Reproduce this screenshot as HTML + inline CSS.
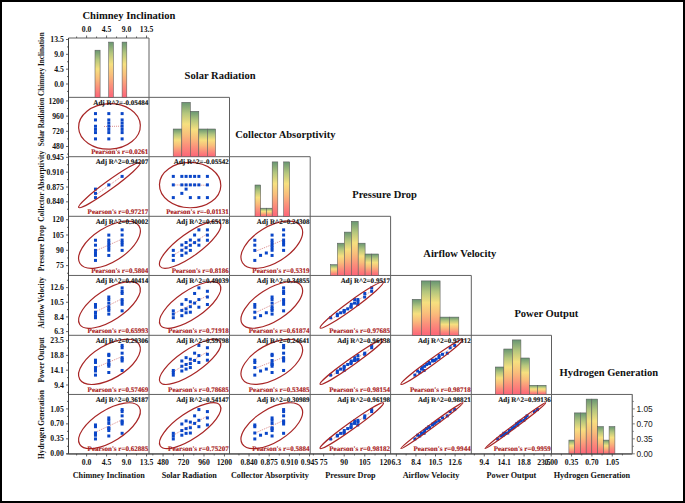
<!DOCTYPE html>
<html><head><meta charset="utf-8"><style>
html,body{margin:0;padding:0;background:#fff}
#w{position:relative;width:685px;height:503px;overflow:hidden;background:#fff}
#b{position:absolute;left:0;top:0;width:685px;height:503px;box-sizing:border-box;border:2px solid #000}
svg{position:absolute;left:0;top:0}
</style></head><body><div id="w">
<svg width="685" height="503" viewBox="0 0 685 503">
<defs><linearGradient id="g" x1="0" y1="0" x2="0" y2="1"><stop offset="0" stop-color="#689672"/><stop offset="0.2" stop-color="#b4c67d"/><stop offset="0.4" stop-color="#f6e07f"/><stop offset="0.6" stop-color="#f9bd7b"/><stop offset="0.8" stop-color="#fb8e7b"/><stop offset="1" stop-color="#fd6478"/></linearGradient></defs>
<line x1="68.5" y1="38.0" x2="149.0" y2="38.0" stroke="#606060" stroke-width="1"/>
<line x1="68.5" y1="97.35" x2="229.5" y2="97.35" stroke="#606060" stroke-width="1"/>
<line x1="68.5" y1="156.7" x2="310.2" y2="156.7" stroke="#606060" stroke-width="1"/>
<line x1="68.5" y1="216.3" x2="390.6" y2="216.3" stroke="#606060" stroke-width="1"/>
<line x1="68.5" y1="275.45" x2="471.3" y2="275.45" stroke="#606060" stroke-width="1"/>
<line x1="68.5" y1="335.3" x2="551.5" y2="335.3" stroke="#606060" stroke-width="1"/>
<line x1="68.5" y1="394.45" x2="632.3" y2="394.45" stroke="#606060" stroke-width="1"/>
<line x1="68.5" y1="453.95" x2="632.3" y2="453.95" stroke="#606060" stroke-width="1"/>
<line x1="149.0" y1="38.0" x2="149.0" y2="453.95" stroke="#606060" stroke-width="1"/>
<line x1="229.5" y1="97.35" x2="229.5" y2="453.95" stroke="#606060" stroke-width="1"/>
<line x1="310.2" y1="156.7" x2="310.2" y2="453.95" stroke="#606060" stroke-width="1"/>
<line x1="390.6" y1="216.3" x2="390.6" y2="453.95" stroke="#606060" stroke-width="1"/>
<line x1="471.3" y1="275.45" x2="471.3" y2="453.95" stroke="#606060" stroke-width="1"/>
<line x1="551.5" y1="335.3" x2="551.5" y2="453.95" stroke="#606060" stroke-width="1"/>
<line x1="632.3" y1="394.45" x2="632.3" y2="453.95" stroke="#606060" stroke-width="1"/>
<rect x="95.0" y="50.2" width="5.10" height="47.15" fill="url(#g)" stroke="#5a5a5a" stroke-width="0.55"/>
<rect x="108.7" y="42.1" width="4.70" height="55.25" fill="url(#g)" stroke="#5a5a5a" stroke-width="0.55"/>
<rect x="122.1" y="42.1" width="4.70" height="55.25" fill="url(#g)" stroke="#5a5a5a" stroke-width="0.55"/>
<rect x="173.2" y="129.0" width="8.60" height="27.70" fill="url(#g)" stroke="#5a5a5a" stroke-width="0.55"/>
<rect x="181.8" y="102.3" width="8.50" height="54.40" fill="url(#g)" stroke="#5a5a5a" stroke-width="0.55"/>
<rect x="190.3" y="111.3" width="8.50" height="45.40" fill="url(#g)" stroke="#5a5a5a" stroke-width="0.55"/>
<rect x="198.8" y="129.0" width="8.60" height="27.70" fill="url(#g)" stroke="#5a5a5a" stroke-width="0.55"/>
<rect x="207.4" y="129.0" width="8.20" height="27.70" fill="url(#g)" stroke="#5a5a5a" stroke-width="0.55"/>
<rect x="255.0" y="185.0" width="5.70" height="31.30" fill="url(#g)" stroke="#5a5a5a" stroke-width="0.55"/>
<rect x="260.7" y="208.2" width="5.80" height="8.10" fill="url(#g)" stroke="#5a5a5a" stroke-width="0.55"/>
<rect x="266.5" y="208.2" width="5.70" height="8.10" fill="url(#g)" stroke="#5a5a5a" stroke-width="0.55"/>
<rect x="272.2" y="161.9" width="5.60" height="54.40" fill="url(#g)" stroke="#5a5a5a" stroke-width="0.55"/>
<rect x="283.7" y="161.9" width="6.00" height="54.40" fill="url(#g)" stroke="#5a5a5a" stroke-width="0.55"/>
<rect x="330.5" y="264.7" width="6.90" height="10.75" fill="url(#g)" stroke="#5a5a5a" stroke-width="0.55"/>
<rect x="337.4" y="243.2" width="6.90" height="32.25" fill="url(#g)" stroke="#5a5a5a" stroke-width="0.55"/>
<rect x="344.3" y="232.1" width="7.00" height="43.35" fill="url(#g)" stroke="#5a5a5a" stroke-width="0.55"/>
<rect x="351.3" y="221.3" width="6.90" height="54.15" fill="url(#g)" stroke="#5a5a5a" stroke-width="0.55"/>
<rect x="358.2" y="243.2" width="6.90" height="32.25" fill="url(#g)" stroke="#5a5a5a" stroke-width="0.55"/>
<rect x="365.1" y="254.0" width="6.50" height="21.45" fill="url(#g)" stroke="#5a5a5a" stroke-width="0.55"/>
<rect x="371.6" y="254.0" width="6.90" height="21.45" fill="url(#g)" stroke="#5a5a5a" stroke-width="0.55"/>
<rect x="412.2" y="299.3" width="9.10" height="36.00" fill="url(#g)" stroke="#5a5a5a" stroke-width="0.55"/>
<rect x="421.3" y="280.9" width="9.40" height="54.40" fill="url(#g)" stroke="#5a5a5a" stroke-width="0.55"/>
<rect x="430.7" y="280.9" width="9.40" height="54.40" fill="url(#g)" stroke="#5a5a5a" stroke-width="0.55"/>
<rect x="440.1" y="317.1" width="9.30" height="18.20" fill="url(#g)" stroke="#5a5a5a" stroke-width="0.55"/>
<rect x="449.4" y="317.1" width="9.40" height="18.20" fill="url(#g)" stroke="#5a5a5a" stroke-width="0.55"/>
<rect x="495.3" y="367.0" width="8.50" height="27.45" fill="url(#g)" stroke="#5a5a5a" stroke-width="0.55"/>
<rect x="503.8" y="349.0" width="8.50" height="45.45" fill="url(#g)" stroke="#5a5a5a" stroke-width="0.55"/>
<rect x="512.3" y="339.9" width="8.60" height="54.55" fill="url(#g)" stroke="#5a5a5a" stroke-width="0.55"/>
<rect x="520.9" y="358.0" width="8.50" height="36.45" fill="url(#g)" stroke="#5a5a5a" stroke-width="0.55"/>
<rect x="529.4" y="385.3" width="8.20" height="9.15" fill="url(#g)" stroke="#5a5a5a" stroke-width="0.55"/>
<rect x="537.6" y="385.3" width="8.50" height="9.15" fill="url(#g)" stroke="#5a5a5a" stroke-width="0.55"/>
<rect x="568.9" y="440.1" width="5.50" height="13.85" fill="url(#g)" stroke="#5a5a5a" stroke-width="0.55"/>
<rect x="574.4" y="412.9" width="6.00" height="41.05" fill="url(#g)" stroke="#5a5a5a" stroke-width="0.55"/>
<rect x="580.4" y="412.9" width="5.80" height="41.05" fill="url(#g)" stroke="#5a5a5a" stroke-width="0.55"/>
<rect x="586.2" y="399.1" width="5.60" height="54.85" fill="url(#g)" stroke="#5a5a5a" stroke-width="0.55"/>
<rect x="591.8" y="399.1" width="5.80" height="54.85" fill="url(#g)" stroke="#5a5a5a" stroke-width="0.55"/>
<rect x="597.6" y="426.6" width="5.80" height="27.35" fill="url(#g)" stroke="#5a5a5a" stroke-width="0.55"/>
<rect x="603.4" y="440.1" width="5.70" height="13.85" fill="url(#g)" stroke="#5a5a5a" stroke-width="0.55"/>
<rect x="609.1" y="426.6" width="5.80" height="27.35" fill="url(#g)" stroke="#5a5a5a" stroke-width="0.55"/>
<g>
<line x1="104.00" y1="126.51" x2="122.12" y2="126.16" stroke="#cc5a5a" stroke-width="0.7" stroke-dasharray="1 1"/>
<rect x="120.62" y="137.40" width="3" height="3" fill="#0a46c8"/>
<rect x="120.62" y="131.08" width="3" height="3" fill="#0a46c8"/>
<rect x="120.62" y="127.91" width="3" height="3" fill="#0a46c8"/>
<rect x="120.62" y="124.75" width="3" height="3" fill="#0a46c8"/>
<rect x="120.62" y="121.59" width="3" height="3" fill="#0a46c8"/>
<rect x="120.62" y="118.43" width="3" height="3" fill="#0a46c8"/>
<rect x="120.62" y="112.10" width="3" height="3" fill="#0a46c8"/>
<rect x="107.30" y="137.40" width="3" height="3" fill="#0a46c8"/>
<rect x="107.30" y="131.08" width="3" height="3" fill="#0a46c8"/>
<rect x="107.30" y="127.91" width="3" height="3" fill="#0a46c8"/>
<rect x="107.30" y="124.75" width="3" height="3" fill="#0a46c8"/>
<rect x="107.30" y="121.59" width="3" height="3" fill="#0a46c8"/>
<rect x="107.30" y="118.43" width="3" height="3" fill="#0a46c8"/>
<rect x="107.30" y="112.10" width="3" height="3" fill="#0a46c8"/>
<rect x="93.98" y="137.40" width="3" height="3" fill="#0a46c8"/>
<rect x="93.98" y="131.08" width="3" height="3" fill="#0a46c8"/>
<rect x="93.98" y="127.91" width="3" height="3" fill="#0a46c8"/>
<rect x="93.98" y="124.75" width="3" height="3" fill="#0a46c8"/>
<rect x="93.98" y="118.43" width="3" height="3" fill="#0a46c8"/>
<rect x="93.98" y="112.10" width="3" height="3" fill="#0a46c8"/>
<ellipse cx="109.47" cy="126.41" rx="30.88" ry="22.75" transform="rotate(177.59 109.47 126.41)" fill="none" stroke="#a82626" stroke-width="1.2"/>
<text x="148.40" y="104.65" text-anchor="end" style="font-family:'Liberation Serif',serif;font-weight:bold;font-size:7.05px;text-rendering:geometricPrecision" fill="#111" stroke="#111" stroke-width="0.12">Adj R^2=-0.05484</text>
<text x="148.40" y="154.20" text-anchor="end" style="font-family:'Liberation Serif',serif;font-weight:bold;font-size:7.05px;text-rendering:geometricPrecision" fill="#a82020" stroke="#a82020" stroke-width="0.12">Pearson's r=0.0261</text>
</g>
<g>
<line x1="95.48" y1="195.08" x2="122.12" y2="176.06" stroke="#cc5a5a" stroke-width="0.7" stroke-dasharray="1 1"/>
<rect x="120.62" y="174.90" width="3" height="3" fill="#0a46c8"/>
<rect x="107.30" y="183.38" width="3" height="3" fill="#0a46c8"/>
<rect x="93.98" y="196.10" width="3" height="3" fill="#0a46c8"/>
<rect x="93.98" y="191.86" width="3" height="3" fill="#0a46c8"/>
<rect x="93.98" y="187.62" width="3" height="3" fill="#0a46c8"/>
<ellipse cx="109.47" cy="185.09" rx="38.06" ry="4.31" transform="rotate(143.94 109.47 185.09)" fill="none" stroke="#a82626" stroke-width="1.2"/>
<text x="148.40" y="164.00" text-anchor="end" style="font-family:'Liberation Serif',serif;font-weight:bold;font-size:7.05px;text-rendering:geometricPrecision" fill="#111" stroke="#111" stroke-width="0.12">Adj R^2=0.94207</text>
<text x="148.40" y="213.80" text-anchor="end" style="font-family:'Liberation Serif',serif;font-weight:bold;font-size:7.05px;text-rendering:geometricPrecision" fill="#a82020" stroke="#a82020" stroke-width="0.12">Pearson's r=0.97217</text>
</g>
<g>
<line x1="173.30" y1="184.95" x2="207.40" y2="185.24" stroke="#cc5a5a" stroke-width="0.7" stroke-dasharray="1 1"/>
<rect x="171.80" y="174.90" width="3" height="3" fill="#0a46c8"/>
<rect x="180.33" y="174.90" width="3" height="3" fill="#0a46c8"/>
<rect x="184.59" y="174.90" width="3" height="3" fill="#0a46c8"/>
<rect x="188.85" y="174.90" width="3" height="3" fill="#0a46c8"/>
<rect x="193.11" y="174.90" width="3" height="3" fill="#0a46c8"/>
<rect x="197.38" y="174.90" width="3" height="3" fill="#0a46c8"/>
<rect x="205.90" y="174.90" width="3" height="3" fill="#0a46c8"/>
<rect x="171.80" y="183.38" width="3" height="3" fill="#0a46c8"/>
<rect x="180.33" y="183.38" width="3" height="3" fill="#0a46c8"/>
<rect x="184.59" y="183.38" width="3" height="3" fill="#0a46c8"/>
<rect x="188.85" y="183.38" width="3" height="3" fill="#0a46c8"/>
<rect x="193.11" y="183.38" width="3" height="3" fill="#0a46c8"/>
<rect x="197.38" y="183.38" width="3" height="3" fill="#0a46c8"/>
<rect x="205.90" y="183.38" width="3" height="3" fill="#0a46c8"/>
<rect x="171.80" y="196.10" width="3" height="3" fill="#0a46c8"/>
<rect x="180.33" y="191.86" width="3" height="3" fill="#0a46c8"/>
<rect x="184.59" y="187.62" width="3" height="3" fill="#0a46c8"/>
<rect x="188.85" y="196.10" width="3" height="3" fill="#0a46c8"/>
<rect x="197.38" y="196.10" width="3" height="3" fill="#0a46c8"/>
<rect x="205.90" y="196.10" width="3" height="3" fill="#0a46c8"/>
<ellipse cx="190.14" cy="185.09" rx="30.69" ry="22.67" transform="rotate(-178.95 190.14 185.09)" fill="none" stroke="#a82626" stroke-width="1.2"/>
<text x="228.90" y="164.00" text-anchor="end" style="font-family:'Liberation Serif',serif;font-weight:bold;font-size:7.05px;text-rendering:geometricPrecision" fill="#111" stroke="#111" stroke-width="0.12">Adj R^2=-0.05542</text>
<text x="228.90" y="213.80" text-anchor="end" style="font-family:'Liberation Serif',serif;font-weight:bold;font-size:7.05px;text-rendering:geometricPrecision" fill="#a82020" stroke="#a82020" stroke-width="0.12">Pearson's r=-0.01131</text>
</g>
<g>
<line x1="95.48" y1="250.90" x2="122.12" y2="239.07" stroke="#cc5a5a" stroke-width="0.7" stroke-dasharray="1 1"/>
<rect x="120.62" y="248.87" width="3" height="3" fill="#0a46c8"/>
<rect x="120.62" y="243.51" width="3" height="3" fill="#0a46c8"/>
<rect x="120.62" y="241.02" width="3" height="3" fill="#0a46c8"/>
<rect x="120.62" y="238.55" width="3" height="3" fill="#0a46c8"/>
<rect x="120.62" y="233.51" width="3" height="3" fill="#0a46c8"/>
<rect x="120.62" y="228.37" width="3" height="3" fill="#0a46c8"/>
<rect x="107.30" y="253.93" width="3" height="3" fill="#0a46c8"/>
<rect x="107.30" y="248.76" width="3" height="3" fill="#0a46c8"/>
<rect x="107.30" y="246.21" width="3" height="3" fill="#0a46c8"/>
<rect x="107.30" y="243.78" width="3" height="3" fill="#0a46c8"/>
<rect x="107.30" y="241.12" width="3" height="3" fill="#0a46c8"/>
<rect x="107.30" y="238.61" width="3" height="3" fill="#0a46c8"/>
<rect x="107.30" y="233.60" width="3" height="3" fill="#0a46c8"/>
<rect x="93.98" y="258.91" width="3" height="3" fill="#0a46c8"/>
<rect x="93.98" y="253.88" width="3" height="3" fill="#0a46c8"/>
<rect x="93.98" y="251.48" width="3" height="3" fill="#0a46c8"/>
<rect x="93.98" y="248.89" width="3" height="3" fill="#0a46c8"/>
<rect x="93.98" y="243.67" width="3" height="3" fill="#0a46c8"/>
<rect x="93.98" y="238.75" width="3" height="3" fill="#0a46c8"/>
<ellipse cx="109.47" cy="244.69" rx="34.96" ry="17.00" transform="rotate(147.49 109.47 244.69)" fill="none" stroke="#a82626" stroke-width="1.2"/>
<text x="148.40" y="223.60" text-anchor="end" style="font-family:'Liberation Serif',serif;font-weight:bold;font-size:7.05px;text-rendering:geometricPrecision" fill="#111" stroke="#111" stroke-width="0.12">Adj R^2=0.30002</text>
<text x="148.40" y="272.95" text-anchor="end" style="font-family:'Liberation Serif',serif;font-weight:bold;font-size:7.05px;text-rendering:geometricPrecision" fill="#a82020" stroke="#a82020" stroke-width="0.12">Pearson's r=0.5804</text>
</g>
<g>
<line x1="173.30" y1="255.31" x2="207.40" y2="233.80" stroke="#cc5a5a" stroke-width="0.7" stroke-dasharray="1 1"/>
<rect x="171.80" y="248.87" width="3" height="3" fill="#0a46c8"/>
<rect x="180.33" y="243.51" width="3" height="3" fill="#0a46c8"/>
<rect x="184.59" y="241.02" width="3" height="3" fill="#0a46c8"/>
<rect x="188.85" y="238.55" width="3" height="3" fill="#0a46c8"/>
<rect x="193.11" y="233.51" width="3" height="3" fill="#0a46c8"/>
<rect x="197.38" y="228.37" width="3" height="3" fill="#0a46c8"/>
<rect x="205.90" y="228.37" width="3" height="3" fill="#0a46c8"/>
<rect x="171.80" y="253.93" width="3" height="3" fill="#0a46c8"/>
<rect x="180.33" y="248.76" width="3" height="3" fill="#0a46c8"/>
<rect x="184.59" y="246.21" width="3" height="3" fill="#0a46c8"/>
<rect x="188.85" y="243.78" width="3" height="3" fill="#0a46c8"/>
<rect x="193.11" y="241.12" width="3" height="3" fill="#0a46c8"/>
<rect x="197.38" y="238.61" width="3" height="3" fill="#0a46c8"/>
<rect x="205.90" y="233.60" width="3" height="3" fill="#0a46c8"/>
<rect x="171.80" y="258.91" width="3" height="3" fill="#0a46c8"/>
<rect x="180.33" y="253.88" width="3" height="3" fill="#0a46c8"/>
<rect x="184.59" y="251.48" width="3" height="3" fill="#0a46c8"/>
<rect x="188.85" y="248.89" width="3" height="3" fill="#0a46c8"/>
<rect x="197.38" y="243.67" width="3" height="3" fill="#0a46c8"/>
<rect x="205.90" y="238.75" width="3" height="3" fill="#0a46c8"/>
<ellipse cx="190.14" cy="244.69" rx="37.07" ry="11.24" transform="rotate(143.93 190.14 244.69)" fill="none" stroke="#a82626" stroke-width="1.2"/>
<text x="228.90" y="223.60" text-anchor="end" style="font-family:'Liberation Serif',serif;font-weight:bold;font-size:7.05px;text-rendering:geometricPrecision" fill="#111" stroke="#111" stroke-width="0.12">Adj R^2=0.65178</text>
<text x="228.90" y="272.95" text-anchor="end" style="font-family:'Liberation Serif',serif;font-weight:bold;font-size:7.05px;text-rendering:geometricPrecision" fill="#a82020" stroke="#a82020" stroke-width="0.12">Pearson's r=0.8186</text>
</g>
<g>
<line x1="254.80" y1="251.63" x2="283.60" y2="239.86" stroke="#cc5a5a" stroke-width="0.7" stroke-dasharray="1 1"/>
<rect x="282.10" y="248.87" width="3" height="3" fill="#0a46c8"/>
<rect x="282.10" y="243.51" width="3" height="3" fill="#0a46c8"/>
<rect x="282.10" y="241.02" width="3" height="3" fill="#0a46c8"/>
<rect x="282.10" y="238.55" width="3" height="3" fill="#0a46c8"/>
<rect x="282.10" y="233.51" width="3" height="3" fill="#0a46c8"/>
<rect x="282.10" y="228.37" width="3" height="3" fill="#0a46c8"/>
<rect x="270.58" y="253.93" width="3" height="3" fill="#0a46c8"/>
<rect x="270.58" y="248.76" width="3" height="3" fill="#0a46c8"/>
<rect x="270.58" y="246.21" width="3" height="3" fill="#0a46c8"/>
<rect x="270.58" y="243.78" width="3" height="3" fill="#0a46c8"/>
<rect x="270.58" y="241.12" width="3" height="3" fill="#0a46c8"/>
<rect x="270.58" y="238.61" width="3" height="3" fill="#0a46c8"/>
<rect x="270.58" y="233.60" width="3" height="3" fill="#0a46c8"/>
<rect x="253.30" y="258.91" width="3" height="3" fill="#0a46c8"/>
<rect x="259.06" y="253.88" width="3" height="3" fill="#0a46c8"/>
<rect x="264.82" y="251.48" width="3" height="3" fill="#0a46c8"/>
<rect x="253.30" y="248.89" width="3" height="3" fill="#0a46c8"/>
<rect x="253.30" y="243.67" width="3" height="3" fill="#0a46c8"/>
<rect x="253.30" y="238.75" width="3" height="3" fill="#0a46c8"/>
<ellipse cx="271.79" cy="244.69" rx="34.46" ry="17.88" transform="rotate(148.35 271.79 244.69)" fill="none" stroke="#a82626" stroke-width="1.2"/>
<text x="309.60" y="223.60" text-anchor="end" style="font-family:'Liberation Serif',serif;font-weight:bold;font-size:7.05px;text-rendering:geometricPrecision" fill="#111" stroke="#111" stroke-width="0.12">Adj R^2=0.24308</text>
<text x="309.60" y="272.95" text-anchor="end" style="font-family:'Liberation Serif',serif;font-weight:bold;font-size:7.05px;text-rendering:geometricPrecision" fill="#a82020" stroke="#a82020" stroke-width="0.12">Pearson's r=0.5319</text>
</g>
<g>
<line x1="95.48" y1="311.91" x2="122.12" y2="298.65" stroke="#cc5a5a" stroke-width="0.7" stroke-dasharray="1 1"/>
<rect x="120.62" y="309.34" width="3" height="3" fill="#0a46c8"/>
<rect x="120.62" y="302.79" width="3" height="3" fill="#0a46c8"/>
<rect x="120.62" y="298.11" width="3" height="3" fill="#0a46c8"/>
<rect x="120.62" y="300.27" width="3" height="3" fill="#0a46c8"/>
<rect x="120.62" y="291.96" width="3" height="3" fill="#0a46c8"/>
<rect x="120.62" y="286.38" width="3" height="3" fill="#0a46c8"/>
<rect x="120.62" y="289.79" width="3" height="3" fill="#0a46c8"/>
<rect x="107.30" y="312.60" width="3" height="3" fill="#0a46c8"/>
<rect x="107.30" y="308.92" width="3" height="3" fill="#0a46c8"/>
<rect x="107.30" y="307.38" width="3" height="3" fill="#0a46c8"/>
<rect x="107.30" y="305.19" width="3" height="3" fill="#0a46c8"/>
<rect x="107.30" y="301.61" width="3" height="3" fill="#0a46c8"/>
<rect x="107.30" y="298.06" width="3" height="3" fill="#0a46c8"/>
<rect x="107.30" y="295.51" width="3" height="3" fill="#0a46c8"/>
<rect x="93.98" y="316.22" width="3" height="3" fill="#0a46c8"/>
<rect x="93.98" y="314.16" width="3" height="3" fill="#0a46c8"/>
<rect x="93.98" y="311.25" width="3" height="3" fill="#0a46c8"/>
<rect x="93.98" y="310.69" width="3" height="3" fill="#0a46c8"/>
<rect x="93.98" y="305.72" width="3" height="3" fill="#0a46c8"/>
<rect x="93.98" y="303.01" width="3" height="3" fill="#0a46c8"/>
<ellipse cx="109.47" cy="304.95" rx="35.56" ry="15.19" transform="rotate(146.70 109.47 304.95)" fill="none" stroke="#a82626" stroke-width="1.2"/>
<text x="148.40" y="282.75" text-anchor="end" style="font-family:'Liberation Serif',serif;font-weight:bold;font-size:7.05px;text-rendering:geometricPrecision" fill="#111" stroke="#111" stroke-width="0.12">Adj R^2=0.40414</text>
<text x="148.40" y="332.80" text-anchor="end" style="font-family:'Liberation Serif',serif;font-weight:bold;font-size:7.05px;text-rendering:geometricPrecision" fill="#a82020" stroke="#a82020" stroke-width="0.12">Pearson's r=0.65993</text>
</g>
<g>
<line x1="173.30" y1="314.13" x2="207.40" y2="295.53" stroke="#cc5a5a" stroke-width="0.7" stroke-dasharray="1 1"/>
<rect x="171.80" y="309.34" width="3" height="3" fill="#0a46c8"/>
<rect x="180.33" y="302.79" width="3" height="3" fill="#0a46c8"/>
<rect x="184.59" y="298.11" width="3" height="3" fill="#0a46c8"/>
<rect x="188.85" y="300.27" width="3" height="3" fill="#0a46c8"/>
<rect x="193.11" y="291.96" width="3" height="3" fill="#0a46c8"/>
<rect x="197.38" y="286.38" width="3" height="3" fill="#0a46c8"/>
<rect x="205.90" y="289.79" width="3" height="3" fill="#0a46c8"/>
<rect x="171.80" y="312.60" width="3" height="3" fill="#0a46c8"/>
<rect x="180.33" y="308.92" width="3" height="3" fill="#0a46c8"/>
<rect x="184.59" y="307.38" width="3" height="3" fill="#0a46c8"/>
<rect x="188.85" y="305.19" width="3" height="3" fill="#0a46c8"/>
<rect x="193.11" y="301.61" width="3" height="3" fill="#0a46c8"/>
<rect x="197.38" y="298.06" width="3" height="3" fill="#0a46c8"/>
<rect x="205.90" y="295.51" width="3" height="3" fill="#0a46c8"/>
<rect x="171.80" y="316.22" width="3" height="3" fill="#0a46c8"/>
<rect x="180.33" y="314.16" width="3" height="3" fill="#0a46c8"/>
<rect x="184.59" y="311.25" width="3" height="3" fill="#0a46c8"/>
<rect x="188.85" y="310.69" width="3" height="3" fill="#0a46c8"/>
<rect x="197.38" y="305.72" width="3" height="3" fill="#0a46c8"/>
<rect x="205.90" y="303.01" width="3" height="3" fill="#0a46c8"/>
<ellipse cx="190.14" cy="304.95" rx="35.96" ry="13.82" transform="rotate(145.62 190.14 304.95)" fill="none" stroke="#a82626" stroke-width="1.2"/>
<text x="228.90" y="282.75" text-anchor="end" style="font-family:'Liberation Serif',serif;font-weight:bold;font-size:7.05px;text-rendering:geometricPrecision" fill="#111" stroke="#111" stroke-width="0.12">Adj R^2=0.49039</text>
<text x="228.90" y="332.80" text-anchor="end" style="font-family:'Liberation Serif',serif;font-weight:bold;font-size:7.05px;text-rendering:geometricPrecision" fill="#a82020" stroke="#a82020" stroke-width="0.12">Pearson's r=0.71918</text>
</g>
<g>
<line x1="254.80" y1="312.90" x2="283.60" y2="299.42" stroke="#cc5a5a" stroke-width="0.7" stroke-dasharray="1 1"/>
<rect x="282.10" y="309.34" width="3" height="3" fill="#0a46c8"/>
<rect x="282.10" y="302.79" width="3" height="3" fill="#0a46c8"/>
<rect x="282.10" y="298.11" width="3" height="3" fill="#0a46c8"/>
<rect x="282.10" y="300.27" width="3" height="3" fill="#0a46c8"/>
<rect x="282.10" y="291.96" width="3" height="3" fill="#0a46c8"/>
<rect x="282.10" y="286.38" width="3" height="3" fill="#0a46c8"/>
<rect x="282.10" y="289.79" width="3" height="3" fill="#0a46c8"/>
<rect x="270.58" y="312.60" width="3" height="3" fill="#0a46c8"/>
<rect x="270.58" y="308.92" width="3" height="3" fill="#0a46c8"/>
<rect x="270.58" y="307.38" width="3" height="3" fill="#0a46c8"/>
<rect x="270.58" y="305.19" width="3" height="3" fill="#0a46c8"/>
<rect x="270.58" y="301.61" width="3" height="3" fill="#0a46c8"/>
<rect x="270.58" y="298.06" width="3" height="3" fill="#0a46c8"/>
<rect x="270.58" y="295.51" width="3" height="3" fill="#0a46c8"/>
<rect x="253.30" y="316.22" width="3" height="3" fill="#0a46c8"/>
<rect x="259.06" y="314.16" width="3" height="3" fill="#0a46c8"/>
<rect x="264.82" y="311.25" width="3" height="3" fill="#0a46c8"/>
<rect x="253.30" y="310.69" width="3" height="3" fill="#0a46c8"/>
<rect x="253.30" y="305.72" width="3" height="3" fill="#0a46c8"/>
<rect x="253.30" y="303.01" width="3" height="3" fill="#0a46c8"/>
<ellipse cx="271.79" cy="304.95" rx="35.12" ry="16.04" transform="rotate(147.30 271.79 304.95)" fill="none" stroke="#a82626" stroke-width="1.2"/>
<text x="309.60" y="282.75" text-anchor="end" style="font-family:'Liberation Serif',serif;font-weight:bold;font-size:7.05px;text-rendering:geometricPrecision" fill="#111" stroke="#111" stroke-width="0.12">Adj R^2=0.34855</text>
<text x="309.60" y="332.80" text-anchor="end" style="font-family:'Liberation Serif',serif;font-weight:bold;font-size:7.05px;text-rendering:geometricPrecision" fill="#a82020" stroke="#a82020" stroke-width="0.12">Pearson's r=0.61874</text>
</g>
<g>
<line x1="330.62" y1="320.08" x2="371.67" y2="290.69" stroke="#cc5a5a" stroke-width="0.7" stroke-dasharray="1 1"/>
<rect x="342.62" y="309.34" width="3" height="3" fill="#0a46c8"/>
<rect x="349.82" y="302.79" width="3" height="3" fill="#0a46c8"/>
<rect x="353.17" y="298.11" width="3" height="3" fill="#0a46c8"/>
<rect x="356.48" y="300.27" width="3" height="3" fill="#0a46c8"/>
<rect x="363.26" y="291.96" width="3" height="3" fill="#0a46c8"/>
<rect x="370.17" y="286.38" width="3" height="3" fill="#0a46c8"/>
<rect x="370.17" y="289.79" width="3" height="3" fill="#0a46c8"/>
<rect x="335.82" y="312.60" width="3" height="3" fill="#0a46c8"/>
<rect x="342.76" y="308.92" width="3" height="3" fill="#0a46c8"/>
<rect x="346.19" y="307.38" width="3" height="3" fill="#0a46c8"/>
<rect x="349.45" y="305.19" width="3" height="3" fill="#0a46c8"/>
<rect x="353.03" y="301.61" width="3" height="3" fill="#0a46c8"/>
<rect x="356.41" y="298.06" width="3" height="3" fill="#0a46c8"/>
<rect x="363.14" y="295.51" width="3" height="3" fill="#0a46c8"/>
<rect x="329.12" y="316.22" width="3" height="3" fill="#0a46c8"/>
<rect x="335.88" y="314.16" width="3" height="3" fill="#0a46c8"/>
<rect x="339.10" y="311.25" width="3" height="3" fill="#0a46c8"/>
<rect x="342.59" y="310.69" width="3" height="3" fill="#0a46c8"/>
<rect x="349.60" y="305.72" width="3" height="3" fill="#0a46c8"/>
<rect x="356.22" y="303.01" width="3" height="3" fill="#0a46c8"/>
<ellipse cx="351.75" cy="304.95" rx="39.18" ry="4.03" transform="rotate(143.95 351.75 304.95)" fill="none" stroke="#a82626" stroke-width="1.2"/>
<text x="390.00" y="282.75" text-anchor="end" style="font-family:'Liberation Serif',serif;font-weight:bold;font-size:7.05px;text-rendering:geometricPrecision" fill="#111" stroke="#111" stroke-width="0.12">Adj R^2=0.9517</text>
<text x="390.00" y="332.80" text-anchor="end" style="font-family:'Liberation Serif',serif;font-weight:bold;font-size:7.05px;text-rendering:geometricPrecision" fill="#a82020" stroke="#a82020" stroke-width="0.12">Pearson's r=0.97685</text>
</g>
<g>
<line x1="95.48" y1="367.74" x2="122.12" y2="356.54" stroke="#cc5a5a" stroke-width="0.7" stroke-dasharray="1 1"/>
<rect x="120.62" y="368.97" width="3" height="3" fill="#0a46c8"/>
<rect x="120.62" y="359.49" width="3" height="3" fill="#0a46c8"/>
<rect x="120.62" y="356.16" width="3" height="3" fill="#0a46c8"/>
<rect x="120.62" y="357.72" width="3" height="3" fill="#0a46c8"/>
<rect x="120.62" y="351.67" width="3" height="3" fill="#0a46c8"/>
<rect x="120.62" y="343.92" width="3" height="3" fill="#0a46c8"/>
<rect x="120.62" y="346.24" width="3" height="3" fill="#0a46c8"/>
<rect x="107.30" y="371.00" width="3" height="3" fill="#0a46c8"/>
<rect x="107.30" y="364.74" width="3" height="3" fill="#0a46c8"/>
<rect x="107.30" y="362.97" width="3" height="3" fill="#0a46c8"/>
<rect x="107.30" y="362.07" width="3" height="3" fill="#0a46c8"/>
<rect x="107.30" y="358.99" width="3" height="3" fill="#0a46c8"/>
<rect x="107.30" y="354.08" width="3" height="3" fill="#0a46c8"/>
<rect x="107.30" y="352.81" width="3" height="3" fill="#0a46c8"/>
<rect x="93.98" y="373.60" width="3" height="3" fill="#0a46c8"/>
<rect x="93.98" y="369.48" width="3" height="3" fill="#0a46c8"/>
<rect x="93.98" y="367.58" width="3" height="3" fill="#0a46c8"/>
<rect x="93.98" y="366.07" width="3" height="3" fill="#0a46c8"/>
<rect x="93.98" y="360.96" width="3" height="3" fill="#0a46c8"/>
<rect x="93.98" y="358.68" width="3" height="3" fill="#0a46c8"/>
<ellipse cx="109.47" cy="361.86" rx="34.49" ry="16.56" transform="rotate(149.44 109.47 361.86)" fill="none" stroke="#a82626" stroke-width="1.2"/>
<text x="148.40" y="342.60" text-anchor="end" style="font-family:'Liberation Serif',serif;font-weight:bold;font-size:7.05px;text-rendering:geometricPrecision" fill="#111" stroke="#111" stroke-width="0.12">Adj R^2=0.29306</text>
<text x="148.40" y="391.95" text-anchor="end" style="font-family:'Liberation Serif',serif;font-weight:bold;font-size:7.05px;text-rendering:geometricPrecision" fill="#a82020" stroke="#a82020" stroke-width="0.12">Pearson's r=0.57469</text>
</g>
<g>
<line x1="173.30" y1="371.61" x2="207.40" y2="351.86" stroke="#cc5a5a" stroke-width="0.7" stroke-dasharray="1 1"/>
<rect x="171.80" y="368.97" width="3" height="3" fill="#0a46c8"/>
<rect x="180.33" y="359.49" width="3" height="3" fill="#0a46c8"/>
<rect x="184.59" y="356.16" width="3" height="3" fill="#0a46c8"/>
<rect x="188.85" y="357.72" width="3" height="3" fill="#0a46c8"/>
<rect x="193.11" y="351.67" width="3" height="3" fill="#0a46c8"/>
<rect x="197.38" y="343.92" width="3" height="3" fill="#0a46c8"/>
<rect x="205.90" y="346.24" width="3" height="3" fill="#0a46c8"/>
<rect x="171.80" y="371.00" width="3" height="3" fill="#0a46c8"/>
<rect x="180.33" y="364.74" width="3" height="3" fill="#0a46c8"/>
<rect x="184.59" y="362.97" width="3" height="3" fill="#0a46c8"/>
<rect x="188.85" y="362.07" width="3" height="3" fill="#0a46c8"/>
<rect x="193.11" y="358.99" width="3" height="3" fill="#0a46c8"/>
<rect x="197.38" y="354.08" width="3" height="3" fill="#0a46c8"/>
<rect x="205.90" y="352.81" width="3" height="3" fill="#0a46c8"/>
<rect x="171.80" y="373.60" width="3" height="3" fill="#0a46c8"/>
<rect x="180.33" y="369.48" width="3" height="3" fill="#0a46c8"/>
<rect x="184.59" y="367.58" width="3" height="3" fill="#0a46c8"/>
<rect x="188.85" y="366.07" width="3" height="3" fill="#0a46c8"/>
<rect x="197.38" y="360.96" width="3" height="3" fill="#0a46c8"/>
<rect x="205.90" y="358.68" width="3" height="3" fill="#0a46c8"/>
<ellipse cx="190.14" cy="361.86" rx="36.23" ry="11.82" transform="rotate(145.78 190.14 361.86)" fill="none" stroke="#a82626" stroke-width="1.2"/>
<text x="228.90" y="342.60" text-anchor="end" style="font-family:'Liberation Serif',serif;font-weight:bold;font-size:7.05px;text-rendering:geometricPrecision" fill="#111" stroke="#111" stroke-width="0.12">Adj R^2=0.59798</text>
<text x="228.90" y="391.95" text-anchor="end" style="font-family:'Liberation Serif',serif;font-weight:bold;font-size:7.05px;text-rendering:geometricPrecision" fill="#a82020" stroke="#a82020" stroke-width="0.12">Pearson's r=0.78685</text>
</g>
<g>
<line x1="254.80" y1="368.52" x2="283.60" y2="357.23" stroke="#cc5a5a" stroke-width="0.7" stroke-dasharray="1 1"/>
<rect x="282.10" y="368.97" width="3" height="3" fill="#0a46c8"/>
<rect x="282.10" y="359.49" width="3" height="3" fill="#0a46c8"/>
<rect x="282.10" y="356.16" width="3" height="3" fill="#0a46c8"/>
<rect x="282.10" y="357.72" width="3" height="3" fill="#0a46c8"/>
<rect x="282.10" y="351.67" width="3" height="3" fill="#0a46c8"/>
<rect x="282.10" y="343.92" width="3" height="3" fill="#0a46c8"/>
<rect x="282.10" y="346.24" width="3" height="3" fill="#0a46c8"/>
<rect x="270.58" y="371.00" width="3" height="3" fill="#0a46c8"/>
<rect x="270.58" y="364.74" width="3" height="3" fill="#0a46c8"/>
<rect x="270.58" y="362.97" width="3" height="3" fill="#0a46c8"/>
<rect x="270.58" y="362.07" width="3" height="3" fill="#0a46c8"/>
<rect x="270.58" y="358.99" width="3" height="3" fill="#0a46c8"/>
<rect x="270.58" y="354.08" width="3" height="3" fill="#0a46c8"/>
<rect x="270.58" y="352.81" width="3" height="3" fill="#0a46c8"/>
<rect x="253.30" y="373.60" width="3" height="3" fill="#0a46c8"/>
<rect x="259.06" y="369.48" width="3" height="3" fill="#0a46c8"/>
<rect x="264.82" y="367.58" width="3" height="3" fill="#0a46c8"/>
<rect x="253.30" y="366.07" width="3" height="3" fill="#0a46c8"/>
<rect x="253.30" y="360.96" width="3" height="3" fill="#0a46c8"/>
<rect x="253.30" y="358.68" width="3" height="3" fill="#0a46c8"/>
<ellipse cx="271.79" cy="361.86" rx="34.08" ry="17.26" transform="rotate(150.25 271.79 361.86)" fill="none" stroke="#a82626" stroke-width="1.2"/>
<text x="309.60" y="342.60" text-anchor="end" style="font-family:'Liberation Serif',serif;font-weight:bold;font-size:7.05px;text-rendering:geometricPrecision" fill="#111" stroke="#111" stroke-width="0.12">Adj R^2=0.24641</text>
<text x="309.60" y="391.95" text-anchor="end" style="font-family:'Liberation Serif',serif;font-weight:bold;font-size:7.05px;text-rendering:geometricPrecision" fill="#a82020" stroke="#a82020" stroke-width="0.12">Pearson's r=0.53485</text>
</g>
<g>
<line x1="330.62" y1="376.62" x2="371.67" y2="347.95" stroke="#cc5a5a" stroke-width="0.7" stroke-dasharray="1 1"/>
<rect x="342.62" y="368.97" width="3" height="3" fill="#0a46c8"/>
<rect x="349.82" y="359.49" width="3" height="3" fill="#0a46c8"/>
<rect x="353.17" y="356.16" width="3" height="3" fill="#0a46c8"/>
<rect x="356.48" y="357.72" width="3" height="3" fill="#0a46c8"/>
<rect x="363.26" y="351.67" width="3" height="3" fill="#0a46c8"/>
<rect x="370.17" y="343.92" width="3" height="3" fill="#0a46c8"/>
<rect x="370.17" y="346.24" width="3" height="3" fill="#0a46c8"/>
<rect x="335.82" y="371.00" width="3" height="3" fill="#0a46c8"/>
<rect x="342.76" y="364.74" width="3" height="3" fill="#0a46c8"/>
<rect x="346.19" y="362.97" width="3" height="3" fill="#0a46c8"/>
<rect x="349.45" y="362.07" width="3" height="3" fill="#0a46c8"/>
<rect x="353.03" y="358.99" width="3" height="3" fill="#0a46c8"/>
<rect x="356.41" y="354.08" width="3" height="3" fill="#0a46c8"/>
<rect x="363.14" y="352.81" width="3" height="3" fill="#0a46c8"/>
<rect x="329.12" y="373.60" width="3" height="3" fill="#0a46c8"/>
<rect x="335.88" y="369.48" width="3" height="3" fill="#0a46c8"/>
<rect x="339.10" y="367.58" width="3" height="3" fill="#0a46c8"/>
<rect x="342.59" y="366.07" width="3" height="3" fill="#0a46c8"/>
<rect x="349.60" y="360.96" width="3" height="3" fill="#0a46c8"/>
<rect x="356.22" y="358.68" width="3" height="3" fill="#0a46c8"/>
<ellipse cx="351.75" cy="361.86" rx="38.83" ry="3.53" transform="rotate(144.74 351.75 361.86)" fill="none" stroke="#a82626" stroke-width="1.2"/>
<text x="390.00" y="342.60" text-anchor="end" style="font-family:'Liberation Serif',serif;font-weight:bold;font-size:7.05px;text-rendering:geometricPrecision" fill="#111" stroke="#111" stroke-width="0.12">Adj R^2=0.96138</text>
<text x="390.00" y="391.95" text-anchor="end" style="font-family:'Liberation Serif',serif;font-weight:bold;font-size:7.05px;text-rendering:geometricPrecision" fill="#a82020" stroke="#a82020" stroke-width="0.12">Pearson's r=0.98154</text>
</g>
<g>
<line x1="414.88" y1="374.10" x2="454.70" y2="345.51" stroke="#cc5a5a" stroke-width="0.7" stroke-dasharray="1 1"/>
<rect x="422.56" y="368.97" width="3" height="3" fill="#0a46c8"/>
<rect x="431.30" y="359.49" width="3" height="3" fill="#0a46c8"/>
<rect x="437.55" y="356.16" width="3" height="3" fill="#0a46c8"/>
<rect x="434.66" y="357.72" width="3" height="3" fill="#0a46c8"/>
<rect x="445.75" y="351.67" width="3" height="3" fill="#0a46c8"/>
<rect x="453.20" y="343.92" width="3" height="3" fill="#0a46c8"/>
<rect x="448.65" y="346.24" width="3" height="3" fill="#0a46c8"/>
<rect x="418.21" y="371.00" width="3" height="3" fill="#0a46c8"/>
<rect x="423.12" y="364.74" width="3" height="3" fill="#0a46c8"/>
<rect x="425.18" y="362.97" width="3" height="3" fill="#0a46c8"/>
<rect x="428.10" y="362.07" width="3" height="3" fill="#0a46c8"/>
<rect x="432.87" y="358.99" width="3" height="3" fill="#0a46c8"/>
<rect x="437.61" y="354.08" width="3" height="3" fill="#0a46c8"/>
<rect x="441.01" y="352.81" width="3" height="3" fill="#0a46c8"/>
<rect x="413.38" y="373.60" width="3" height="3" fill="#0a46c8"/>
<rect x="416.13" y="369.48" width="3" height="3" fill="#0a46c8"/>
<rect x="420.01" y="367.58" width="3" height="3" fill="#0a46c8"/>
<rect x="420.76" y="366.07" width="3" height="3" fill="#0a46c8"/>
<rect x="427.39" y="360.96" width="3" height="3" fill="#0a46c8"/>
<rect x="431.01" y="358.68" width="3" height="3" fill="#0a46c8"/>
<ellipse cx="431.92" cy="361.86" rx="38.31" ry="2.92" transform="rotate(144.09 431.92 361.86)" fill="none" stroke="#a82626" stroke-width="1.2"/>
<text x="470.70" y="342.60" text-anchor="end" style="font-family:'Liberation Serif',serif;font-weight:bold;font-size:7.05px;text-rendering:geometricPrecision" fill="#111" stroke="#111" stroke-width="0.12">Adj R^2=0.97312</text>
<text x="470.70" y="391.95" text-anchor="end" style="font-family:'Liberation Serif',serif;font-weight:bold;font-size:7.05px;text-rendering:geometricPrecision" fill="#a82020" stroke="#a82020" stroke-width="0.12">Pearson's r=0.98718</text>
</g>
<g>
<line x1="95.48" y1="432.23" x2="122.12" y2="419.80" stroke="#cc5a5a" stroke-width="0.7" stroke-dasharray="1 1"/>
<rect x="120.62" y="431.80" width="3" height="3" fill="#0a46c8"/>
<rect x="120.62" y="422.52" width="3" height="3" fill="#0a46c8"/>
<rect x="120.62" y="419.44" width="3" height="3" fill="#0a46c8"/>
<rect x="120.62" y="420.61" width="3" height="3" fill="#0a46c8"/>
<rect x="120.62" y="414.36" width="3" height="3" fill="#0a46c8"/>
<rect x="120.62" y="408.08" width="3" height="3" fill="#0a46c8"/>
<rect x="120.62" y="410.09" width="3" height="3" fill="#0a46c8"/>
<rect x="107.30" y="434.48" width="3" height="3" fill="#0a46c8"/>
<rect x="107.30" y="429.04" width="3" height="3" fill="#0a46c8"/>
<rect x="107.30" y="427.10" width="3" height="3" fill="#0a46c8"/>
<rect x="107.30" y="426.23" width="3" height="3" fill="#0a46c8"/>
<rect x="107.30" y="421.90" width="3" height="3" fill="#0a46c8"/>
<rect x="107.30" y="418.82" width="3" height="3" fill="#0a46c8"/>
<rect x="107.30" y="416.43" width="3" height="3" fill="#0a46c8"/>
<rect x="93.98" y="437.45" width="3" height="3" fill="#0a46c8"/>
<rect x="93.98" y="433.71" width="3" height="3" fill="#0a46c8"/>
<rect x="93.98" y="431.86" width="3" height="3" fill="#0a46c8"/>
<rect x="93.98" y="431.51" width="3" height="3" fill="#0a46c8"/>
<rect x="93.98" y="425.20" width="3" height="3" fill="#0a46c8"/>
<rect x="93.98" y="423.46" width="3" height="3" fill="#0a46c8"/>
<ellipse cx="109.47" cy="425.70" rx="35.10" ry="15.69" transform="rotate(147.84 109.47 425.70)" fill="none" stroke="#a82626" stroke-width="1.2"/>
<text x="148.40" y="401.75" text-anchor="end" style="font-family:'Liberation Serif',serif;font-weight:bold;font-size:7.05px;text-rendering:geometricPrecision" fill="#111" stroke="#111" stroke-width="0.12">Adj R^2=0.36187</text>
<text x="148.40" y="451.45" text-anchor="end" style="font-family:'Liberation Serif',serif;font-weight:bold;font-size:7.05px;text-rendering:geometricPrecision" fill="#a82020" stroke="#a82020" stroke-width="0.12">Pearson's r=0.62885</text>
</g>
<g>
<line x1="173.30" y1="435.17" x2="207.40" y2="416.00" stroke="#cc5a5a" stroke-width="0.7" stroke-dasharray="1 1"/>
<rect x="171.80" y="431.80" width="3" height="3" fill="#0a46c8"/>
<rect x="180.33" y="422.52" width="3" height="3" fill="#0a46c8"/>
<rect x="184.59" y="419.44" width="3" height="3" fill="#0a46c8"/>
<rect x="188.85" y="420.61" width="3" height="3" fill="#0a46c8"/>
<rect x="193.11" y="414.36" width="3" height="3" fill="#0a46c8"/>
<rect x="197.38" y="408.08" width="3" height="3" fill="#0a46c8"/>
<rect x="205.90" y="410.09" width="3" height="3" fill="#0a46c8"/>
<rect x="171.80" y="434.48" width="3" height="3" fill="#0a46c8"/>
<rect x="180.33" y="429.04" width="3" height="3" fill="#0a46c8"/>
<rect x="184.59" y="427.10" width="3" height="3" fill="#0a46c8"/>
<rect x="188.85" y="426.23" width="3" height="3" fill="#0a46c8"/>
<rect x="193.11" y="421.90" width="3" height="3" fill="#0a46c8"/>
<rect x="197.38" y="418.82" width="3" height="3" fill="#0a46c8"/>
<rect x="205.90" y="416.43" width="3" height="3" fill="#0a46c8"/>
<rect x="171.80" y="437.45" width="3" height="3" fill="#0a46c8"/>
<rect x="180.33" y="433.71" width="3" height="3" fill="#0a46c8"/>
<rect x="184.59" y="431.86" width="3" height="3" fill="#0a46c8"/>
<rect x="188.85" y="431.51" width="3" height="3" fill="#0a46c8"/>
<rect x="197.38" y="425.20" width="3" height="3" fill="#0a46c8"/>
<rect x="205.90" y="423.46" width="3" height="3" fill="#0a46c8"/>
<ellipse cx="190.14" cy="425.70" rx="36.08" ry="12.85" transform="rotate(145.73 190.14 425.70)" fill="none" stroke="#a82626" stroke-width="1.2"/>
<text x="228.90" y="401.75" text-anchor="end" style="font-family:'Liberation Serif',serif;font-weight:bold;font-size:7.05px;text-rendering:geometricPrecision" fill="#111" stroke="#111" stroke-width="0.12">Adj R^2=0.54147</text>
<text x="228.90" y="451.45" text-anchor="end" style="font-family:'Liberation Serif',serif;font-weight:bold;font-size:7.05px;text-rendering:geometricPrecision" fill="#a82020" stroke="#a82020" stroke-width="0.12">Pearson's r=0.75207</text>
</g>
<g>
<line x1="254.80" y1="433.15" x2="283.60" y2="420.53" stroke="#cc5a5a" stroke-width="0.7" stroke-dasharray="1 1"/>
<rect x="282.10" y="431.80" width="3" height="3" fill="#0a46c8"/>
<rect x="282.10" y="422.52" width="3" height="3" fill="#0a46c8"/>
<rect x="282.10" y="419.44" width="3" height="3" fill="#0a46c8"/>
<rect x="282.10" y="420.61" width="3" height="3" fill="#0a46c8"/>
<rect x="282.10" y="414.36" width="3" height="3" fill="#0a46c8"/>
<rect x="282.10" y="408.08" width="3" height="3" fill="#0a46c8"/>
<rect x="282.10" y="410.09" width="3" height="3" fill="#0a46c8"/>
<rect x="270.58" y="434.48" width="3" height="3" fill="#0a46c8"/>
<rect x="270.58" y="429.04" width="3" height="3" fill="#0a46c8"/>
<rect x="270.58" y="427.10" width="3" height="3" fill="#0a46c8"/>
<rect x="270.58" y="426.23" width="3" height="3" fill="#0a46c8"/>
<rect x="270.58" y="421.90" width="3" height="3" fill="#0a46c8"/>
<rect x="270.58" y="418.82" width="3" height="3" fill="#0a46c8"/>
<rect x="270.58" y="416.43" width="3" height="3" fill="#0a46c8"/>
<rect x="253.30" y="437.45" width="3" height="3" fill="#0a46c8"/>
<rect x="259.06" y="433.71" width="3" height="3" fill="#0a46c8"/>
<rect x="264.82" y="431.86" width="3" height="3" fill="#0a46c8"/>
<rect x="253.30" y="431.51" width="3" height="3" fill="#0a46c8"/>
<rect x="253.30" y="425.20" width="3" height="3" fill="#0a46c8"/>
<rect x="253.30" y="423.46" width="3" height="3" fill="#0a46c8"/>
<ellipse cx="271.79" cy="425.70" rx="34.69" ry="16.45" transform="rotate(148.48 271.79 425.70)" fill="none" stroke="#a82626" stroke-width="1.2"/>
<text x="309.60" y="401.75" text-anchor="end" style="font-family:'Liberation Serif',serif;font-weight:bold;font-size:7.05px;text-rendering:geometricPrecision" fill="#111" stroke="#111" stroke-width="0.12">Adj R^2=0.30989</text>
<text x="309.60" y="451.45" text-anchor="end" style="font-family:'Liberation Serif',serif;font-weight:bold;font-size:7.05px;text-rendering:geometricPrecision" fill="#a82020" stroke="#a82020" stroke-width="0.12">Pearson's r=0.5884</text>
</g>
<g>
<line x1="330.62" y1="440.68" x2="371.67" y2="411.59" stroke="#cc5a5a" stroke-width="0.7" stroke-dasharray="1 1"/>
<rect x="342.62" y="431.80" width="3" height="3" fill="#0a46c8"/>
<rect x="349.82" y="422.52" width="3" height="3" fill="#0a46c8"/>
<rect x="353.17" y="419.44" width="3" height="3" fill="#0a46c8"/>
<rect x="356.48" y="420.61" width="3" height="3" fill="#0a46c8"/>
<rect x="363.26" y="414.36" width="3" height="3" fill="#0a46c8"/>
<rect x="370.17" y="408.08" width="3" height="3" fill="#0a46c8"/>
<rect x="370.17" y="410.09" width="3" height="3" fill="#0a46c8"/>
<rect x="335.82" y="434.48" width="3" height="3" fill="#0a46c8"/>
<rect x="342.76" y="429.04" width="3" height="3" fill="#0a46c8"/>
<rect x="346.19" y="427.10" width="3" height="3" fill="#0a46c8"/>
<rect x="349.45" y="426.23" width="3" height="3" fill="#0a46c8"/>
<rect x="353.03" y="421.90" width="3" height="3" fill="#0a46c8"/>
<rect x="356.41" y="418.82" width="3" height="3" fill="#0a46c8"/>
<rect x="363.14" y="416.43" width="3" height="3" fill="#0a46c8"/>
<rect x="329.12" y="437.45" width="3" height="3" fill="#0a46c8"/>
<rect x="335.88" y="433.71" width="3" height="3" fill="#0a46c8"/>
<rect x="339.10" y="431.86" width="3" height="3" fill="#0a46c8"/>
<rect x="342.59" y="431.51" width="3" height="3" fill="#0a46c8"/>
<rect x="349.60" y="425.20" width="3" height="3" fill="#0a46c8"/>
<rect x="356.22" y="423.46" width="3" height="3" fill="#0a46c8"/>
<ellipse cx="351.75" cy="425.70" rx="39.02" ry="3.56" transform="rotate(144.35 351.75 425.70)" fill="none" stroke="#a82626" stroke-width="1.2"/>
<text x="390.00" y="401.75" text-anchor="end" style="font-family:'Liberation Serif',serif;font-weight:bold;font-size:7.05px;text-rendering:geometricPrecision" fill="#111" stroke="#111" stroke-width="0.12">Adj R^2=0.96198</text>
<text x="390.00" y="451.45" text-anchor="end" style="font-family:'Liberation Serif',serif;font-weight:bold;font-size:7.05px;text-rendering:geometricPrecision" fill="#a82020" stroke="#a82020" stroke-width="0.12">Pearson's r=0.98182</text>
</g>
<g>
<line x1="414.88" y1="438.21" x2="454.70" y2="408.99" stroke="#cc5a5a" stroke-width="0.7" stroke-dasharray="1 1"/>
<rect x="422.56" y="431.80" width="3" height="3" fill="#0a46c8"/>
<rect x="431.30" y="422.52" width="3" height="3" fill="#0a46c8"/>
<rect x="437.55" y="419.44" width="3" height="3" fill="#0a46c8"/>
<rect x="434.66" y="420.61" width="3" height="3" fill="#0a46c8"/>
<rect x="445.75" y="414.36" width="3" height="3" fill="#0a46c8"/>
<rect x="453.20" y="408.08" width="3" height="3" fill="#0a46c8"/>
<rect x="448.65" y="410.09" width="3" height="3" fill="#0a46c8"/>
<rect x="418.21" y="434.48" width="3" height="3" fill="#0a46c8"/>
<rect x="423.12" y="429.04" width="3" height="3" fill="#0a46c8"/>
<rect x="425.18" y="427.10" width="3" height="3" fill="#0a46c8"/>
<rect x="428.10" y="426.23" width="3" height="3" fill="#0a46c8"/>
<rect x="432.87" y="421.90" width="3" height="3" fill="#0a46c8"/>
<rect x="437.61" y="418.82" width="3" height="3" fill="#0a46c8"/>
<rect x="441.01" y="416.43" width="3" height="3" fill="#0a46c8"/>
<rect x="413.38" y="437.45" width="3" height="3" fill="#0a46c8"/>
<rect x="416.13" y="433.71" width="3" height="3" fill="#0a46c8"/>
<rect x="420.01" y="431.86" width="3" height="3" fill="#0a46c8"/>
<rect x="420.76" y="431.51" width="3" height="3" fill="#0a46c8"/>
<rect x="427.39" y="425.20" width="3" height="3" fill="#0a46c8"/>
<rect x="431.01" y="423.46" width="3" height="3" fill="#0a46c8"/>
<ellipse cx="431.92" cy="425.70" rx="38.57" ry="1.95" transform="rotate(143.63 431.92 425.70)" fill="none" stroke="#a82626" stroke-width="1.2"/>
<text x="470.70" y="401.75" text-anchor="end" style="font-family:'Liberation Serif',serif;font-weight:bold;font-size:7.05px;text-rendering:geometricPrecision" fill="#111" stroke="#111" stroke-width="0.12">Adj R^2=0.98821</text>
<text x="470.70" y="451.45" text-anchor="end" style="font-family:'Liberation Serif',serif;font-weight:bold;font-size:7.05px;text-rendering:geometricPrecision" fill="#a82020" stroke="#a82020" stroke-width="0.12">Pearson's r=0.9944</text>
</g>
<g>
<line x1="497.61" y1="439.08" x2="537.50" y2="409.09" stroke="#cc5a5a" stroke-width="0.7" stroke-dasharray="1 1"/>
<rect x="502.32" y="431.80" width="3" height="3" fill="#0a46c8"/>
<rect x="515.06" y="422.52" width="3" height="3" fill="#0a46c8"/>
<rect x="519.55" y="419.44" width="3" height="3" fill="#0a46c8"/>
<rect x="517.45" y="420.61" width="3" height="3" fill="#0a46c8"/>
<rect x="525.58" y="414.36" width="3" height="3" fill="#0a46c8"/>
<rect x="536.00" y="408.08" width="3" height="3" fill="#0a46c8"/>
<rect x="532.88" y="410.09" width="3" height="3" fill="#0a46c8"/>
<rect x="499.59" y="434.48" width="3" height="3" fill="#0a46c8"/>
<rect x="508.01" y="429.04" width="3" height="3" fill="#0a46c8"/>
<rect x="510.39" y="427.10" width="3" height="3" fill="#0a46c8"/>
<rect x="511.60" y="426.23" width="3" height="3" fill="#0a46c8"/>
<rect x="515.74" y="421.90" width="3" height="3" fill="#0a46c8"/>
<rect x="522.34" y="418.82" width="3" height="3" fill="#0a46c8"/>
<rect x="524.05" y="416.43" width="3" height="3" fill="#0a46c8"/>
<rect x="496.11" y="437.45" width="3" height="3" fill="#0a46c8"/>
<rect x="501.64" y="433.71" width="3" height="3" fill="#0a46c8"/>
<rect x="504.20" y="431.86" width="3" height="3" fill="#0a46c8"/>
<rect x="506.23" y="431.51" width="3" height="3" fill="#0a46c8"/>
<rect x="513.10" y="425.20" width="3" height="3" fill="#0a46c8"/>
<rect x="516.16" y="423.46" width="3" height="3" fill="#0a46c8"/>
<ellipse cx="515.40" cy="425.70" rx="38.02" ry="1.66" transform="rotate(142.99 515.40 425.70)" fill="none" stroke="#a82626" stroke-width="1.2"/>
<text x="550.90" y="401.75" text-anchor="end" style="font-family:'Liberation Serif',serif;font-weight:bold;font-size:7.05px;text-rendering:geometricPrecision" fill="#111" stroke="#111" stroke-width="0.12">Adj R^2=0.99136</text>
<text x="550.90" y="451.45" text-anchor="end" style="font-family:'Liberation Serif',serif;font-weight:bold;font-size:7.05px;text-rendering:geometricPrecision" fill="#a82020" stroke="#a82020" stroke-width="0.12">Pearson's r=0.9959</text>
</g>
<line x1="68.5" y1="38.0" x2="68.5" y2="453.95" stroke="#404040" stroke-width="1"/>
<line x1="66.0" y1="84.00" x2="68.5" y2="84.00" stroke="#404040" stroke-width="0.8"/>
<text x="63.80" y="86.60" text-anchor="end" style="font-family:'Liberation Serif',serif;font-weight:bold;font-size:7.7px" fill="#111">0.0</text>
<line x1="66.0" y1="69.17" x2="68.5" y2="69.17" stroke="#404040" stroke-width="0.8"/>
<text x="63.80" y="71.77" text-anchor="end" style="font-family:'Liberation Serif',serif;font-weight:bold;font-size:7.7px" fill="#111">4.5</text>
<line x1="66.0" y1="54.34" x2="68.5" y2="54.34" stroke="#404040" stroke-width="0.8"/>
<text x="63.80" y="56.94" text-anchor="end" style="font-family:'Liberation Serif',serif;font-weight:bold;font-size:7.7px" fill="#111">9.0</text>
<line x1="66.0" y1="39.50" x2="68.5" y2="39.50" stroke="#404040" stroke-width="0.8"/>
<text x="63.80" y="42.10" text-anchor="end" style="font-family:'Liberation Serif',serif;font-weight:bold;font-size:7.7px" fill="#111">13.5</text>
<line x1="67.0" y1="91.42" x2="68.5" y2="91.42" stroke="#404040" stroke-width="0.8"/>
<line x1="67.0" y1="76.58" x2="68.5" y2="76.58" stroke="#404040" stroke-width="0.8"/>
<line x1="67.0" y1="61.75" x2="68.5" y2="61.75" stroke="#404040" stroke-width="0.8"/>
<line x1="67.0" y1="46.92" x2="68.5" y2="46.92" stroke="#404040" stroke-width="0.8"/>
<text transform="translate(43.9 64.15) rotate(-90) scale(1.000 1)" text-anchor="middle" style="font-family:'Liberation Serif',serif;font-weight:bold;font-size:7.25px" fill="#111">Chimney Inclination</text>
<line x1="66.0" y1="146.49" x2="68.5" y2="146.49" stroke="#404040" stroke-width="0.8"/>
<text x="63.80" y="149.09" text-anchor="end" style="font-family:'Liberation Serif',serif;font-weight:bold;font-size:7.7px" fill="#111">480</text>
<line x1="66.0" y1="131.31" x2="68.5" y2="131.31" stroke="#404040" stroke-width="0.8"/>
<text x="63.80" y="133.91" text-anchor="end" style="font-family:'Liberation Serif',serif;font-weight:bold;font-size:7.7px" fill="#111">720</text>
<line x1="66.0" y1="116.13" x2="68.5" y2="116.13" stroke="#404040" stroke-width="0.8"/>
<text x="63.80" y="118.73" text-anchor="end" style="font-family:'Liberation Serif',serif;font-weight:bold;font-size:7.7px" fill="#111">960</text>
<line x1="66.0" y1="100.95" x2="68.5" y2="100.95" stroke="#404040" stroke-width="0.8"/>
<text x="63.80" y="103.55" text-anchor="end" style="font-family:'Liberation Serif',serif;font-weight:bold;font-size:7.7px" fill="#111">1200</text>
<line x1="67.0" y1="154.08" x2="68.5" y2="154.08" stroke="#404040" stroke-width="0.8"/>
<line x1="67.0" y1="138.90" x2="68.5" y2="138.90" stroke="#404040" stroke-width="0.8"/>
<line x1="67.0" y1="123.72" x2="68.5" y2="123.72" stroke="#404040" stroke-width="0.8"/>
<line x1="67.0" y1="108.54" x2="68.5" y2="108.54" stroke="#404040" stroke-width="0.8"/>
<text transform="translate(43.9 122.10) rotate(-90) scale(0.996 1)" text-anchor="middle" style="font-family:'Liberation Serif',serif;font-weight:bold;font-size:7.25px" fill="#111">Solar Radiation</text>
<line x1="66.0" y1="201.84" x2="68.5" y2="201.84" stroke="#404040" stroke-width="0.8"/>
<text x="63.80" y="204.44" text-anchor="end" style="font-family:'Liberation Serif',serif;font-weight:bold;font-size:7.7px" fill="#111">0.840</text>
<line x1="66.0" y1="187.00" x2="68.5" y2="187.00" stroke="#404040" stroke-width="0.8"/>
<text x="63.80" y="189.60" text-anchor="end" style="font-family:'Liberation Serif',serif;font-weight:bold;font-size:7.7px" fill="#111">0.875</text>
<line x1="66.0" y1="172.16" x2="68.5" y2="172.16" stroke="#404040" stroke-width="0.8"/>
<text x="63.80" y="174.76" text-anchor="end" style="font-family:'Liberation Serif',serif;font-weight:bold;font-size:7.7px" fill="#111">0.910</text>
<line x1="66.0" y1="157.32" x2="68.5" y2="157.32" stroke="#404040" stroke-width="0.8"/>
<text x="63.80" y="159.92" text-anchor="end" style="font-family:'Liberation Serif',serif;font-weight:bold;font-size:7.7px" fill="#111">0.945</text>
<line x1="67.0" y1="209.26" x2="68.5" y2="209.26" stroke="#404040" stroke-width="0.8"/>
<line x1="67.0" y1="194.42" x2="68.5" y2="194.42" stroke="#404040" stroke-width="0.8"/>
<line x1="67.0" y1="179.58" x2="68.5" y2="179.58" stroke="#404040" stroke-width="0.8"/>
<line x1="67.0" y1="164.74" x2="68.5" y2="164.74" stroke="#404040" stroke-width="0.8"/>
<text transform="translate(43.9 186.30) rotate(-90) scale(1.000 1)" text-anchor="middle" style="font-family:'Liberation Serif',serif;font-weight:bold;font-size:7.47px" fill="#111">Collector Absorptivity</text>
<line x1="66.0" y1="265.60" x2="68.5" y2="265.60" stroke="#404040" stroke-width="0.8"/>
<text x="63.80" y="268.20" text-anchor="end" style="font-family:'Liberation Serif',serif;font-weight:bold;font-size:7.7px" fill="#111">75</text>
<line x1="66.0" y1="250.30" x2="68.5" y2="250.30" stroke="#404040" stroke-width="0.8"/>
<text x="63.80" y="252.90" text-anchor="end" style="font-family:'Liberation Serif',serif;font-weight:bold;font-size:7.7px" fill="#111">90</text>
<line x1="66.0" y1="235.00" x2="68.5" y2="235.00" stroke="#404040" stroke-width="0.8"/>
<text x="63.80" y="237.60" text-anchor="end" style="font-family:'Liberation Serif',serif;font-weight:bold;font-size:7.7px" fill="#111">105</text>
<line x1="66.0" y1="219.70" x2="68.5" y2="219.70" stroke="#404040" stroke-width="0.8"/>
<text x="63.80" y="222.30" text-anchor="end" style="font-family:'Liberation Serif',serif;font-weight:bold;font-size:7.7px" fill="#111">120</text>
<line x1="67.0" y1="273.25" x2="68.5" y2="273.25" stroke="#404040" stroke-width="0.8"/>
<line x1="67.0" y1="257.95" x2="68.5" y2="257.95" stroke="#404040" stroke-width="0.8"/>
<line x1="67.0" y1="242.65" x2="68.5" y2="242.65" stroke="#404040" stroke-width="0.8"/>
<line x1="67.0" y1="227.35" x2="68.5" y2="227.35" stroke="#404040" stroke-width="0.8"/>
<text transform="translate(43.9 248.20) rotate(-90) scale(1.000 1)" text-anchor="middle" style="font-family:'Liberation Serif',serif;font-weight:bold;font-size:7.5px" fill="#111">Pressure Drop</text>
<line x1="66.0" y1="331.60" x2="68.5" y2="331.60" stroke="#404040" stroke-width="0.8"/>
<text x="63.80" y="334.20" text-anchor="end" style="font-family:'Liberation Serif',serif;font-weight:bold;font-size:7.7px" fill="#111">6.3</text>
<line x1="66.0" y1="316.93" x2="68.5" y2="316.93" stroke="#404040" stroke-width="0.8"/>
<text x="63.80" y="319.53" text-anchor="end" style="font-family:'Liberation Serif',serif;font-weight:bold;font-size:7.7px" fill="#111">8.4</text>
<line x1="66.0" y1="302.27" x2="68.5" y2="302.27" stroke="#404040" stroke-width="0.8"/>
<text x="63.80" y="304.87" text-anchor="end" style="font-family:'Liberation Serif',serif;font-weight:bold;font-size:7.7px" fill="#111">10.5</text>
<line x1="66.0" y1="287.60" x2="68.5" y2="287.60" stroke="#404040" stroke-width="0.8"/>
<text x="63.80" y="290.20" text-anchor="end" style="font-family:'Liberation Serif',serif;font-weight:bold;font-size:7.7px" fill="#111">12.6</text>
<line x1="67.0" y1="324.27" x2="68.5" y2="324.27" stroke="#404040" stroke-width="0.8"/>
<line x1="67.0" y1="309.60" x2="68.5" y2="309.60" stroke="#404040" stroke-width="0.8"/>
<line x1="67.0" y1="294.93" x2="68.5" y2="294.93" stroke="#404040" stroke-width="0.8"/>
<line x1="67.0" y1="280.27" x2="68.5" y2="280.27" stroke="#404040" stroke-width="0.8"/>
<text transform="translate(43.9 302.85) rotate(-90) scale(1.000 1)" text-anchor="middle" style="font-family:'Liberation Serif',serif;font-weight:bold;font-size:7.43px" fill="#111">Airflow Velocity</text>
<line x1="66.0" y1="385.00" x2="68.5" y2="385.00" stroke="#404040" stroke-width="0.8"/>
<text x="63.80" y="387.60" text-anchor="end" style="font-family:'Liberation Serif',serif;font-weight:bold;font-size:7.7px" fill="#111">9.4</text>
<line x1="66.0" y1="370.20" x2="68.5" y2="370.20" stroke="#404040" stroke-width="0.8"/>
<text x="63.80" y="372.80" text-anchor="end" style="font-family:'Liberation Serif',serif;font-weight:bold;font-size:7.7px" fill="#111">14.1</text>
<line x1="66.0" y1="355.40" x2="68.5" y2="355.40" stroke="#404040" stroke-width="0.8"/>
<text x="63.80" y="358.00" text-anchor="end" style="font-family:'Liberation Serif',serif;font-weight:bold;font-size:7.7px" fill="#111">18.8</text>
<line x1="66.0" y1="340.60" x2="68.5" y2="340.60" stroke="#404040" stroke-width="0.8"/>
<text x="63.80" y="343.20" text-anchor="end" style="font-family:'Liberation Serif',serif;font-weight:bold;font-size:7.7px" fill="#111">23.5</text>
<line x1="67.0" y1="392.40" x2="68.5" y2="392.40" stroke="#404040" stroke-width="0.8"/>
<line x1="67.0" y1="377.60" x2="68.5" y2="377.60" stroke="#404040" stroke-width="0.8"/>
<line x1="67.0" y1="362.80" x2="68.5" y2="362.80" stroke="#404040" stroke-width="0.8"/>
<line x1="67.0" y1="348.00" x2="68.5" y2="348.00" stroke="#404040" stroke-width="0.8"/>
<text transform="translate(43.9 359.85) rotate(-90) scale(1.000 1)" text-anchor="middle" style="font-family:'Liberation Serif',serif;font-weight:bold;font-size:7.46px" fill="#111">Power Output</text>
<line x1="66.0" y1="453.80" x2="68.5" y2="453.80" stroke="#404040" stroke-width="0.8"/>
<text x="63.80" y="456.40" text-anchor="end" style="font-family:'Liberation Serif',serif;font-weight:bold;font-size:7.7px" fill="#111">0.00</text>
<line x1="66.0" y1="438.83" x2="68.5" y2="438.83" stroke="#404040" stroke-width="0.8"/>
<text x="63.80" y="441.43" text-anchor="end" style="font-family:'Liberation Serif',serif;font-weight:bold;font-size:7.7px" fill="#111">0.35</text>
<line x1="66.0" y1="423.87" x2="68.5" y2="423.87" stroke="#404040" stroke-width="0.8"/>
<text x="63.80" y="426.47" text-anchor="end" style="font-family:'Liberation Serif',serif;font-weight:bold;font-size:7.7px" fill="#111">0.70</text>
<line x1="66.0" y1="408.90" x2="68.5" y2="408.90" stroke="#404040" stroke-width="0.8"/>
<text x="63.80" y="411.50" text-anchor="end" style="font-family:'Liberation Serif',serif;font-weight:bold;font-size:7.7px" fill="#111">1.05</text>
<line x1="67.0" y1="446.32" x2="68.5" y2="446.32" stroke="#404040" stroke-width="0.8"/>
<line x1="67.0" y1="431.35" x2="68.5" y2="431.35" stroke="#404040" stroke-width="0.8"/>
<line x1="67.0" y1="416.38" x2="68.5" y2="416.38" stroke="#404040" stroke-width="0.8"/>
<line x1="67.0" y1="401.42" x2="68.5" y2="401.42" stroke="#404040" stroke-width="0.8"/>
<text transform="translate(43.9 424.50) rotate(-90) scale(1.000 1)" text-anchor="middle" style="font-family:'Liberation Serif',serif;font-weight:bold;font-size:7.37px" fill="#111">Hydrogen Generation</text>
<line x1="66.5" y1="453.95" x2="632.3" y2="453.95" stroke="#404040" stroke-width="1"/>
<line x1="86.60" y1="453.95" x2="86.60" y2="456.45" stroke="#404040" stroke-width="0.8"/>
<text x="86.60" y="464.6" text-anchor="middle" style="font-family:'Liberation Serif',serif;font-weight:bold;font-size:7.7px" fill="#111">0.0</text>
<line x1="106.58" y1="453.95" x2="106.58" y2="456.45" stroke="#404040" stroke-width="0.8"/>
<text x="106.58" y="464.6" text-anchor="middle" style="font-family:'Liberation Serif',serif;font-weight:bold;font-size:7.7px" fill="#111">4.5</text>
<line x1="126.56" y1="453.95" x2="126.56" y2="456.45" stroke="#404040" stroke-width="0.8"/>
<text x="126.56" y="464.6" text-anchor="middle" style="font-family:'Liberation Serif',serif;font-weight:bold;font-size:7.7px" fill="#111">9.0</text>
<line x1="146.54" y1="453.95" x2="146.54" y2="456.45" stroke="#404040" stroke-width="0.8"/>
<text x="146.54" y="464.6" text-anchor="middle" style="font-family:'Liberation Serif',serif;font-weight:bold;font-size:7.7px" fill="#111">13.5</text>
<line x1="76.61" y1="453.95" x2="76.61" y2="455.45" stroke="#404040" stroke-width="0.8"/>
<line x1="96.59" y1="453.95" x2="96.59" y2="455.45" stroke="#404040" stroke-width="0.8"/>
<line x1="116.57" y1="453.95" x2="116.57" y2="455.45" stroke="#404040" stroke-width="0.8"/>
<line x1="136.55" y1="453.95" x2="136.55" y2="455.45" stroke="#404040" stroke-width="0.8"/>
<text x="108.75" y="477.7" text-anchor="middle" style="font-family:'Liberation Serif',serif;font-weight:bold;font-size:8.2px" fill="#111">Chimney Inclination</text>
<line x1="163.07" y1="453.95" x2="163.07" y2="456.45" stroke="#404040" stroke-width="0.8"/>
<text x="163.07" y="464.6" text-anchor="middle" style="font-family:'Liberation Serif',serif;font-weight:bold;font-size:7.7px" fill="#111">480</text>
<line x1="183.53" y1="453.95" x2="183.53" y2="456.45" stroke="#404040" stroke-width="0.8"/>
<text x="183.53" y="464.6" text-anchor="middle" style="font-family:'Liberation Serif',serif;font-weight:bold;font-size:7.7px" fill="#111">720</text>
<line x1="203.99" y1="453.95" x2="203.99" y2="456.45" stroke="#404040" stroke-width="0.8"/>
<text x="203.99" y="464.6" text-anchor="middle" style="font-family:'Liberation Serif',serif;font-weight:bold;font-size:7.7px" fill="#111">960</text>
<line x1="224.45" y1="453.95" x2="224.45" y2="456.45" stroke="#404040" stroke-width="0.8"/>
<text x="224.45" y="464.6" text-anchor="middle" style="font-family:'Liberation Serif',serif;font-weight:bold;font-size:7.7px" fill="#111">1200</text>
<line x1="152.84" y1="453.95" x2="152.84" y2="455.45" stroke="#404040" stroke-width="0.8"/>
<line x1="173.30" y1="453.95" x2="173.30" y2="455.45" stroke="#404040" stroke-width="0.8"/>
<line x1="193.76" y1="453.95" x2="193.76" y2="455.45" stroke="#404040" stroke-width="0.8"/>
<line x1="214.22" y1="453.95" x2="214.22" y2="455.45" stroke="#404040" stroke-width="0.8"/>
<text x="189.25" y="477.7" text-anchor="middle" style="font-family:'Liberation Serif',serif;font-weight:bold;font-size:8.2px" fill="#111">Solar Radiation</text>
<line x1="249.04" y1="453.95" x2="249.04" y2="456.45" stroke="#404040" stroke-width="0.8"/>
<text x="249.04" y="464.6" text-anchor="middle" style="font-family:'Liberation Serif',serif;font-weight:bold;font-size:7.7px" fill="#111">0.840</text>
<line x1="269.20" y1="453.95" x2="269.20" y2="456.45" stroke="#404040" stroke-width="0.8"/>
<text x="269.20" y="464.6" text-anchor="middle" style="font-family:'Liberation Serif',serif;font-weight:bold;font-size:7.7px" fill="#111">0.875</text>
<line x1="289.36" y1="453.95" x2="289.36" y2="456.45" stroke="#404040" stroke-width="0.8"/>
<text x="289.36" y="464.6" text-anchor="middle" style="font-family:'Liberation Serif',serif;font-weight:bold;font-size:7.7px" fill="#111">0.910</text>
<line x1="309.52" y1="453.95" x2="309.52" y2="456.45" stroke="#404040" stroke-width="0.8"/>
<text x="309.52" y="464.6" text-anchor="middle" style="font-family:'Liberation Serif',serif;font-weight:bold;font-size:7.7px" fill="#111">0.945</text>
<line x1="238.96" y1="453.95" x2="238.96" y2="455.45" stroke="#404040" stroke-width="0.8"/>
<line x1="259.12" y1="453.95" x2="259.12" y2="455.45" stroke="#404040" stroke-width="0.8"/>
<line x1="279.28" y1="453.95" x2="279.28" y2="455.45" stroke="#404040" stroke-width="0.8"/>
<line x1="299.44" y1="453.95" x2="299.44" y2="455.45" stroke="#404040" stroke-width="0.8"/>
<text x="269.85" y="477.7" text-anchor="middle" style="font-family:'Liberation Serif',serif;font-weight:bold;font-size:8.2px" fill="#111">Collector Absorptivity</text>
<line x1="323.64" y1="453.95" x2="323.64" y2="456.45" stroke="#404040" stroke-width="0.8"/>
<text x="323.64" y="464.6" text-anchor="middle" style="font-family:'Liberation Serif',serif;font-weight:bold;font-size:7.7px" fill="#111">75</text>
<line x1="344.21" y1="453.95" x2="344.21" y2="456.45" stroke="#404040" stroke-width="0.8"/>
<text x="344.21" y="464.6" text-anchor="middle" style="font-family:'Liberation Serif',serif;font-weight:bold;font-size:7.7px" fill="#111">90</text>
<line x1="364.77" y1="453.95" x2="364.77" y2="456.45" stroke="#404040" stroke-width="0.8"/>
<text x="364.77" y="464.6" text-anchor="middle" style="font-family:'Liberation Serif',serif;font-weight:bold;font-size:7.7px" fill="#111">105</text>
<line x1="385.34" y1="453.95" x2="385.34" y2="456.45" stroke="#404040" stroke-width="0.8"/>
<text x="385.34" y="464.6" text-anchor="middle" style="font-family:'Liberation Serif',serif;font-weight:bold;font-size:7.7px" fill="#111">120</text>
<line x1="313.36" y1="453.95" x2="313.36" y2="455.45" stroke="#404040" stroke-width="0.8"/>
<line x1="333.93" y1="453.95" x2="333.93" y2="455.45" stroke="#404040" stroke-width="0.8"/>
<line x1="354.49" y1="453.95" x2="354.49" y2="455.45" stroke="#404040" stroke-width="0.8"/>
<line x1="375.06" y1="453.95" x2="375.06" y2="455.45" stroke="#404040" stroke-width="0.8"/>
<text x="350.40" y="477.7" text-anchor="middle" style="font-family:'Liberation Serif',serif;font-weight:bold;font-size:8.2px" fill="#111">Pressure Drop</text>
<line x1="396.36" y1="453.95" x2="396.36" y2="456.45" stroke="#404040" stroke-width="0.8"/>
<text x="396.36" y="464.6" text-anchor="middle" style="font-family:'Liberation Serif',serif;font-weight:bold;font-size:7.7px" fill="#111">6.3</text>
<line x1="415.93" y1="453.95" x2="415.93" y2="456.45" stroke="#404040" stroke-width="0.8"/>
<text x="415.93" y="464.6" text-anchor="middle" style="font-family:'Liberation Serif',serif;font-weight:bold;font-size:7.7px" fill="#111">8.4</text>
<line x1="435.50" y1="453.95" x2="435.50" y2="456.45" stroke="#404040" stroke-width="0.8"/>
<text x="435.50" y="464.6" text-anchor="middle" style="font-family:'Liberation Serif',serif;font-weight:bold;font-size:7.7px" fill="#111">10.5</text>
<line x1="455.07" y1="453.95" x2="455.07" y2="456.45" stroke="#404040" stroke-width="0.8"/>
<text x="455.07" y="464.6" text-anchor="middle" style="font-family:'Liberation Serif',serif;font-weight:bold;font-size:7.7px" fill="#111">12.6</text>
<line x1="406.14" y1="453.95" x2="406.14" y2="455.45" stroke="#404040" stroke-width="0.8"/>
<line x1="425.71" y1="453.95" x2="425.71" y2="455.45" stroke="#404040" stroke-width="0.8"/>
<line x1="445.29" y1="453.95" x2="445.29" y2="455.45" stroke="#404040" stroke-width="0.8"/>
<line x1="464.86" y1="453.95" x2="464.86" y2="455.45" stroke="#404040" stroke-width="0.8"/>
<text x="430.95" y="477.7" text-anchor="middle" style="font-family:'Liberation Serif',serif;font-weight:bold;font-size:8.2px" fill="#111">Airflow Velocity</text>
<line x1="484.29" y1="453.95" x2="484.29" y2="456.45" stroke="#404040" stroke-width="0.8"/>
<text x="484.29" y="464.6" text-anchor="middle" style="font-family:'Liberation Serif',serif;font-weight:bold;font-size:7.7px" fill="#111">9.4</text>
<line x1="504.19" y1="453.95" x2="504.19" y2="456.45" stroke="#404040" stroke-width="0.8"/>
<text x="504.19" y="464.6" text-anchor="middle" style="font-family:'Liberation Serif',serif;font-weight:bold;font-size:7.7px" fill="#111">14.1</text>
<line x1="524.08" y1="453.95" x2="524.08" y2="456.45" stroke="#404040" stroke-width="0.8"/>
<text x="524.08" y="464.6" text-anchor="middle" style="font-family:'Liberation Serif',serif;font-weight:bold;font-size:7.7px" fill="#111">18.8</text>
<line x1="543.98" y1="453.95" x2="543.98" y2="456.45" stroke="#404040" stroke-width="0.8"/>
<text x="543.98" y="464.6" text-anchor="middle" style="font-family:'Liberation Serif',serif;font-weight:bold;font-size:7.7px" fill="#111">23.5</text>
<line x1="474.35" y1="453.95" x2="474.35" y2="455.45" stroke="#404040" stroke-width="0.8"/>
<line x1="494.24" y1="453.95" x2="494.24" y2="455.45" stroke="#404040" stroke-width="0.8"/>
<line x1="514.14" y1="453.95" x2="514.14" y2="455.45" stroke="#404040" stroke-width="0.8"/>
<line x1="534.03" y1="453.95" x2="534.03" y2="455.45" stroke="#404040" stroke-width="0.8"/>
<text x="511.40" y="477.7" text-anchor="middle" style="font-family:'Liberation Serif',serif;font-weight:bold;font-size:8.2px" fill="#111">Power Output</text>
<line x1="551.20" y1="453.95" x2="551.20" y2="456.45" stroke="#404040" stroke-width="0.8"/>
<text x="551.20" y="464.6" text-anchor="middle" style="font-family:'Liberation Serif',serif;font-weight:bold;font-size:7.7px" fill="#111">0.00</text>
<line x1="571.55" y1="453.95" x2="571.55" y2="456.45" stroke="#404040" stroke-width="0.8"/>
<text x="571.55" y="464.6" text-anchor="middle" style="font-family:'Liberation Serif',serif;font-weight:bold;font-size:7.7px" fill="#111">0.35</text>
<line x1="591.90" y1="453.95" x2="591.90" y2="456.45" stroke="#404040" stroke-width="0.8"/>
<text x="591.90" y="464.6" text-anchor="middle" style="font-family:'Liberation Serif',serif;font-weight:bold;font-size:7.7px" fill="#111">0.70</text>
<line x1="612.25" y1="453.95" x2="612.25" y2="456.45" stroke="#404040" stroke-width="0.8"/>
<text x="612.25" y="464.6" text-anchor="middle" style="font-family:'Liberation Serif',serif;font-weight:bold;font-size:7.7px" fill="#111">1.05</text>
<line x1="561.37" y1="453.95" x2="561.37" y2="455.45" stroke="#404040" stroke-width="0.8"/>
<line x1="581.72" y1="453.95" x2="581.72" y2="455.45" stroke="#404040" stroke-width="0.8"/>
<line x1="602.07" y1="453.95" x2="602.07" y2="455.45" stroke="#404040" stroke-width="0.8"/>
<line x1="622.42" y1="453.95" x2="622.42" y2="455.45" stroke="#404040" stroke-width="0.8"/>
<text x="591.90" y="477.7" text-anchor="middle" style="font-family:'Liberation Serif',serif;font-weight:bold;font-size:8.2px" fill="#111">Hydrogen Generation</text>
<line x1="86.60" y1="38.0" x2="86.60" y2="35.5" stroke="#404040" stroke-width="0.8"/>
<text x="86.60" y="31.8" text-anchor="middle" style="font-family:'Liberation Serif',serif;font-weight:bold;font-size:7.7px" fill="#111">0.0</text>
<line x1="106.58" y1="38.0" x2="106.58" y2="35.5" stroke="#404040" stroke-width="0.8"/>
<text x="106.58" y="31.8" text-anchor="middle" style="font-family:'Liberation Serif',serif;font-weight:bold;font-size:7.7px" fill="#111">4.5</text>
<line x1="126.56" y1="38.0" x2="126.56" y2="35.5" stroke="#404040" stroke-width="0.8"/>
<text x="126.56" y="31.8" text-anchor="middle" style="font-family:'Liberation Serif',serif;font-weight:bold;font-size:7.7px" fill="#111">9.0</text>
<line x1="146.54" y1="38.0" x2="146.54" y2="35.5" stroke="#404040" stroke-width="0.8"/>
<text x="146.54" y="31.8" text-anchor="middle" style="font-family:'Liberation Serif',serif;font-weight:bold;font-size:7.7px" fill="#111">13.5</text>
<line x1="76.61" y1="38.0" x2="76.61" y2="36.5" stroke="#404040" stroke-width="0.8"/>
<line x1="96.59" y1="38.0" x2="96.59" y2="36.5" stroke="#404040" stroke-width="0.8"/>
<line x1="116.57" y1="38.0" x2="116.57" y2="36.5" stroke="#404040" stroke-width="0.8"/>
<line x1="136.55" y1="38.0" x2="136.55" y2="36.5" stroke="#404040" stroke-width="0.8"/>
<line x1="632.3" y1="394.45" x2="632.3" y2="453.95" stroke="#808080" stroke-width="1"/>
<line x1="632.3" y1="453.80" x2="634.8" y2="453.80" stroke="#606060" stroke-width="0.8"/>
<text x="636.4" y="456.70" style="font-family:'Liberation Sans',sans-serif;font-size:8.4px" fill="#222">0.00</text>
<line x1="632.3" y1="438.83" x2="634.8" y2="438.83" stroke="#606060" stroke-width="0.8"/>
<text x="636.4" y="441.73" style="font-family:'Liberation Sans',sans-serif;font-size:8.4px" fill="#222">0.35</text>
<line x1="632.3" y1="423.87" x2="634.8" y2="423.87" stroke="#606060" stroke-width="0.8"/>
<text x="636.4" y="426.77" style="font-family:'Liberation Sans',sans-serif;font-size:8.4px" fill="#222">0.70</text>
<line x1="632.3" y1="408.90" x2="634.8" y2="408.90" stroke="#606060" stroke-width="0.8"/>
<text x="636.4" y="411.80" style="font-family:'Liberation Sans',sans-serif;font-size:8.4px" fill="#222">1.05</text>
<line x1="632.3" y1="446.32" x2="633.8" y2="446.32" stroke="#606060" stroke-width="0.8"/>
<line x1="632.3" y1="431.35" x2="633.8" y2="431.35" stroke="#606060" stroke-width="0.8"/>
<line x1="632.3" y1="416.38" x2="633.8" y2="416.38" stroke="#606060" stroke-width="0.8"/>
<line x1="632.3" y1="401.42" x2="633.8" y2="401.42" stroke="#606060" stroke-width="0.8"/>
<text x="82.5" y="19.1" style="font-family:'Liberation Serif',serif;font-weight:bold;font-size:10.55px" fill="#111">Chimney Inclination</text>
<text x="184.6" y="78.8" style="font-family:'Liberation Serif',serif;font-weight:bold;font-size:10.55px" fill="#111">Solar Radiation</text>
<text x="235.2" y="138.4" style="font-family:'Liberation Serif',serif;font-weight:bold;font-size:10.55px" fill="#111">Collector Absorptivity</text>
<text x="352.2" y="197.9" style="font-family:'Liberation Serif',serif;font-weight:bold;font-size:10.55px" fill="#111">Pressure Drop</text>
<text x="423.3" y="257.2" style="font-family:'Liberation Serif',serif;font-weight:bold;font-size:10.55px" fill="#111">Airflow Velocity</text>
<text x="514.4" y="316.6" style="font-family:'Liberation Serif',serif;font-weight:bold;font-size:10.55px" fill="#111">Power Output</text>
<text x="559.6" y="376.2" style="font-family:'Liberation Serif',serif;font-weight:bold;font-size:10.55px" fill="#111">Hydrogen Generation</text>
</svg><div id="b"></div></div></body></html>
